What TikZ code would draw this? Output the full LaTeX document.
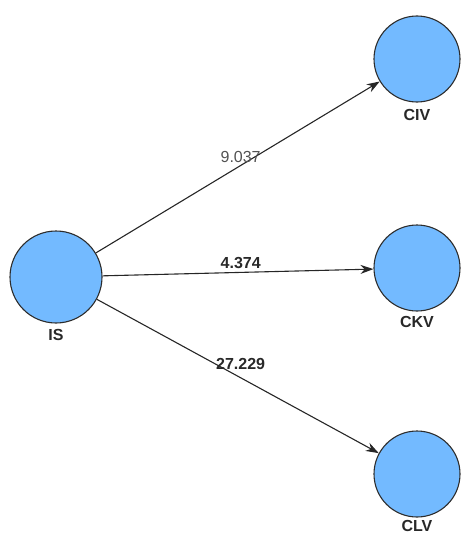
\documentclass[tikz,border=0pt]{standalone}
\usepackage{fontspec}
\setmainfont{Liberation Sans}
\usetikzlibrary{positioning,arrows.meta}
\definecolor{latentFill}{RGB}{115,186,255}
\definecolor{latentLine}{RGB}{45,45,45}
\definecolor{pathText}{RGB}{40,40,40}
\begin{document}
\begin{tikzpicture}[
    x=1pt, y=-1pt,
    latentIS/.style={circle, draw=latentLine, line width=1.1pt, fill=latentFill, minimum size=92pt, inner sep=0pt},
    latent/.style={circle, draw=latentLine, line width=1.1pt, fill=latentFill, minimum size=86pt, inner sep=0pt},
    latentName/.style={font=\bfseries\fontsize{16}{16}\selectfont, text=pathText, inner sep=1pt},
    pathLine/.style={->, line width=1.1pt, draw=black!85},
    pathCoef/.style={font=\bfseries\fontsize{16}{16}\selectfont, text=pathText},
    pathCoefPlain/.style={font=\fontsize{16}{16}\selectfont, text=black!68},
    >={Stealth[length=13pt, width=9pt]}
]
    \useasboundingbox (0,0) rectangle (462,535);

    % konstrukty
    \node[latentIS] (is)  at (56,277) {};
    \node[latent]   (civ) at (417,59) {};
    \node[latent]   (ckv) at (417,268) {};
    \node[latent]   (clv) at (417,474) {};

    % nazwy
    \node[latentName, below=5pt of is]  (isName)  {IS};
    \node[latentName, below=6pt of civ] (civName) {CIV};
    \node[latentName, below=4pt of ckv] (ckvName) {CKV};
    \node[latentName, below=2pt of clv] (clvName) {CLV};

    % sciezki
    \draw[pathLine] (is) -- (civ)
        node[pathCoefPlain, pos=0.51, above, yshift=-1pt] (coefCiv) {9.037};
    \draw[pathLine] (is) -- (ckv)
        node[pathCoef, pos=0.51, above] (coefCkv) {4.374};
    \draw[pathLine] (is) -- (clv)
        node[pathCoef, pos=0.51, above, yshift=4pt] (coefClv) {27.229};
\end{tikzpicture}
\end{document}
